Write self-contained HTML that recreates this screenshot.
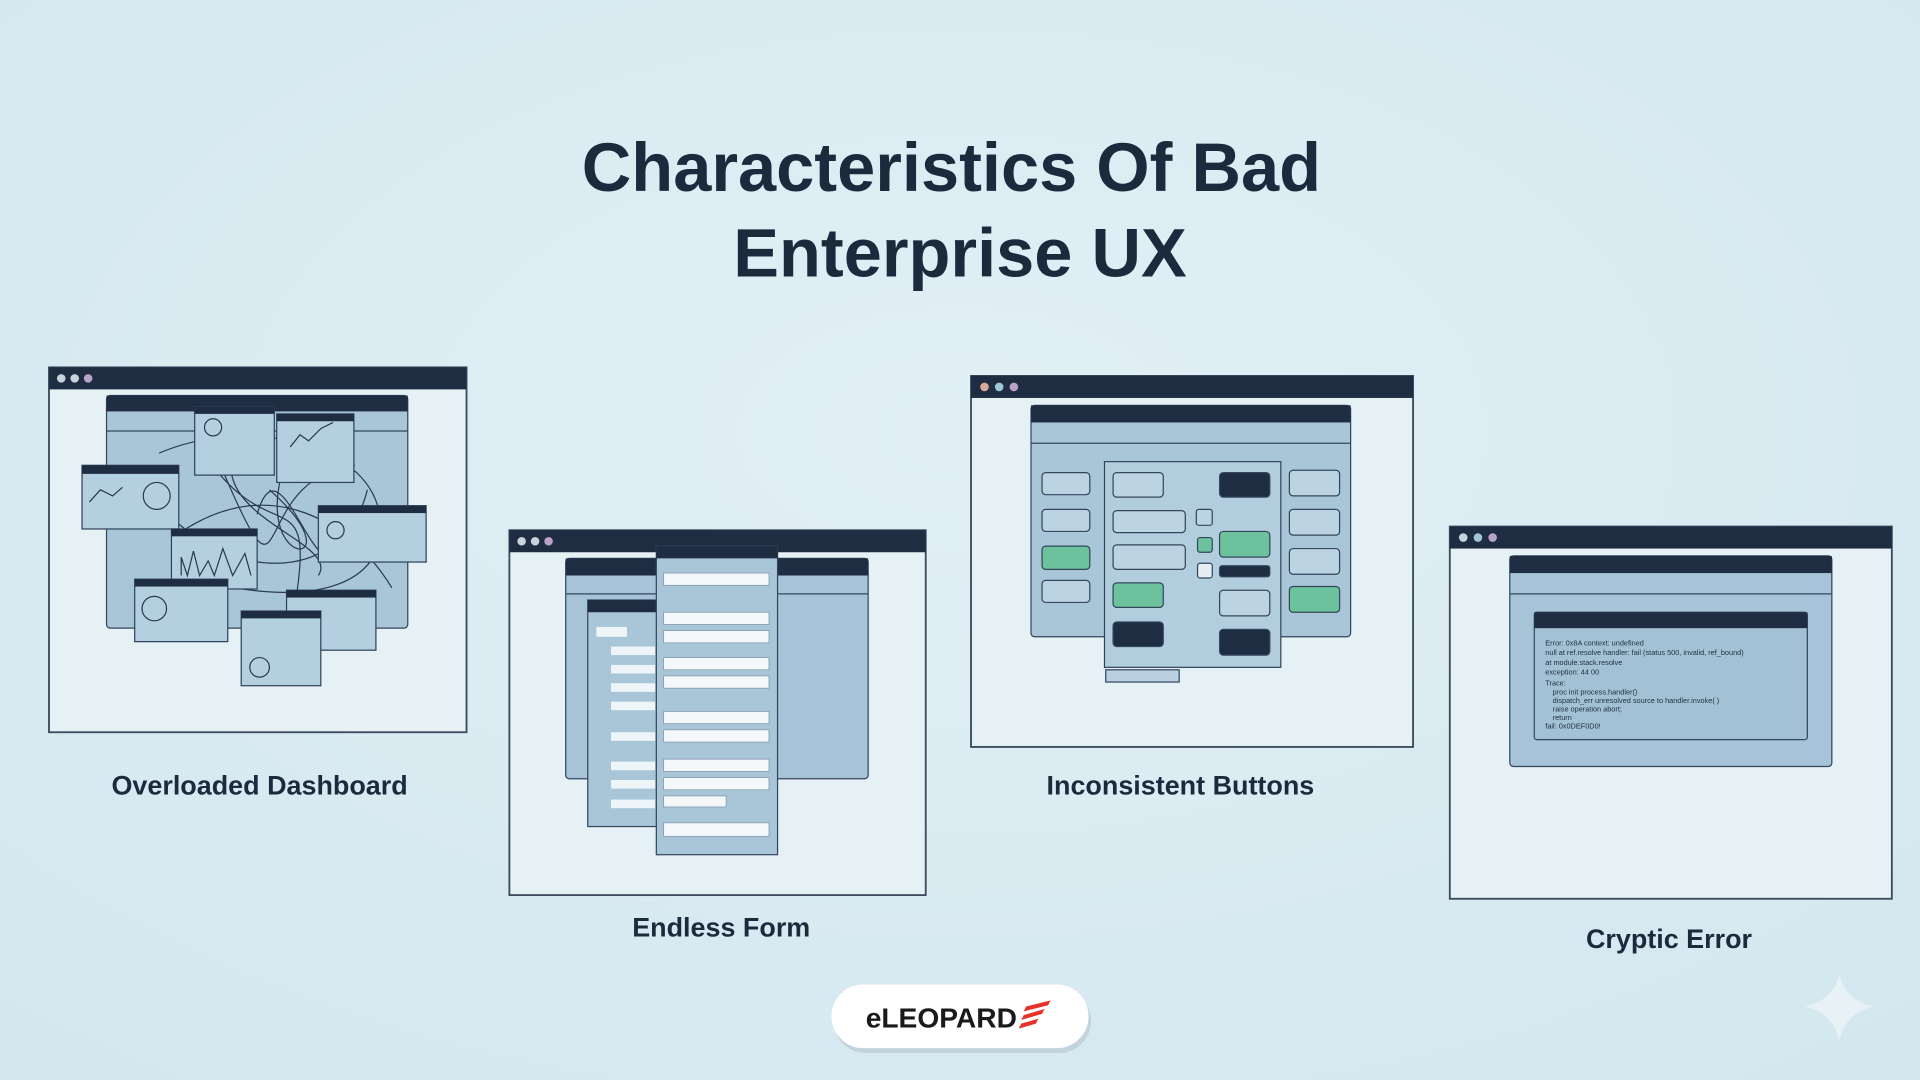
<!DOCTYPE html>
<html><head><meta charset="utf-8"><style>
html,body{margin:0;padding:0;background:#d9ebf2;}
svg{display:block}
text{font-family:"Liberation Sans",sans-serif;}
</style></head><body>
<svg width="1920" height="1080" viewBox="0 0 1568 882" xmlns="http://www.w3.org/2000/svg">
<defs>
<radialGradient id="bg" cx="50%" cy="40%" r="75%"><stop offset="0" stop-color="#e2f0f5"/><stop offset="1" stop-color="#d3e7ef"/></radialGradient>
</defs>
<rect width="1568" height="882" fill="url(#bg)"/>
<text x="777" y="156" text-anchor="middle" font-size="56" font-weight="bold" fill="#1c2a3d">Characteristics Of Bad</text>
<text x="784" y="226" text-anchor="middle" font-size="56" font-weight="bold" fill="#1c2a3d">Enterprise UX</text>

<!-- Window 1 -->
<g>
<rect x="40" y="300" width="341" height="298" fill="#e6f1f5" stroke="#3b4a5c" stroke-width="1.5"/>
<rect x="40" y="300" width="341" height="18" fill="#1f2d42"/>
<circle cx="50" cy="309" r="3.5" fill="#c9d3dc"/><circle cx="61" cy="309" r="3.5" fill="#c9d3dc"/><circle cx="72" cy="309" r="3.5" fill="#b9a3c6"/>
<rect x="87" y="323" width="246" height="190" rx="3" fill="#a9c6d9" stroke="#33465c"/>
<rect x="87" y="323" width="246" height="13" fill="#1f2d42"/>
<line x1="87" y1="352" x2="333" y2="352" stroke="#33465c"/>
<g fill="none" stroke="#2a3a4f" stroke-width="1">
<path d="M130 370 C200 340,300 360,310 420 S250 500,150 470"/><path d="M120 400 C180 480,280 480,300 400"/>
<path d="M160 360 C220 460,260 380,240 500"/><path d="M200 350 C150 420,280 440,260 470"/>
<path d="M240 360 C190 470,300 470,220 400"/><path d="M140 440 C220 380,290 430,320 480"/>
<path d="M180 380 C240 520,200 390,290 380"/><path d="M210 420 C230 350,260 500,280 440"/>
</g>
<g fill="#b4cfe0" stroke="#2f4258">
<rect x="159" y="332" width="65" height="56"/><rect x="226" y="338" width="63" height="56"/>
<rect x="67" y="380" width="79" height="52"/><rect x="260" y="413" width="88" height="46"/>
<rect x="140" y="432" width="70" height="49"/><rect x="110" y="473" width="76" height="51"/>
<rect x="234" y="482" width="73" height="49"/><rect x="197" y="499" width="65" height="61"/>
</g>
<g fill="#1f2d42">
<rect x="159" y="332" width="65" height="6"/><rect x="226" y="338" width="63" height="6"/>
<rect x="67" y="380" width="79" height="7"/><rect x="260" y="413" width="88" height="6"/>
<rect x="140" y="432" width="70" height="6"/><rect x="110" y="473" width="76" height="6"/>
<rect x="234" y="482" width="73" height="6"/><rect x="197" y="499" width="65" height="6"/>
</g>
<g fill="none" stroke="#2a3a4f">
<circle cx="174" cy="349" r="7"/><circle cx="128" cy="405" r="11"/><circle cx="274" cy="433" r="7"/><circle cx="126" cy="497" r="10"/><circle cx="212" cy="545" r="8"/>
<polyline points="237,365 245,355 252,360 262,350 272,345"/><polyline points="73,410 82,400 92,405 100,398"/>
<polyline points="148,470 148,455 153,470 158,450 163,470 170,458 175,470 182,448 190,470 200,452 205,470"/>
</g>
</g>
<text x="212" y="649" text-anchor="middle" font-size="22" font-weight="bold" fill="#1c2a3d">Overloaded Dashboard</text>

<!-- Window 2 -->
<g>
<rect x="416" y="433" width="340" height="298" fill="#e6f1f5" stroke="#3b4a5c" stroke-width="1.5"/>
<rect x="416" y="433" width="340" height="18" fill="#1f2d42"/>
<circle cx="426" cy="442" r="3.5" fill="#c9d3dc"/><circle cx="437" cy="442" r="3.5" fill="#c9d3dc"/><circle cx="448" cy="442" r="3.5" fill="#b9a3c6"/>
<rect x="462" y="456" width="247" height="180" rx="3" fill="#a6c3d7" stroke="#33465c"/>
<rect x="462" y="456" width="247" height="14" fill="#1f2d42"/>
<line x1="462" y1="485" x2="709" y2="485" stroke="#33465c"/>
<rect x="480" y="490" width="58" height="185" fill="#a9c6d9" stroke="#33465c"/>
<rect x="480" y="490" width="58" height="10" fill="#1f2d42"/>
<g fill="#eef5f9"><rect x="487" y="512" width="25" height="8"/><rect x="499" y="528" width="36" height="7"/><rect x="499" y="543" width="36" height="7"/><rect x="499" y="558" width="36" height="7"/><rect x="499" y="573" width="36" height="7"/><rect x="499" y="598" width="36" height="7"/><rect x="499" y="622" width="36" height="7"/><rect x="499" y="637" width="36" height="7"/><rect x="499" y="653" width="36" height="7"/></g>
<rect x="536" y="446" width="99" height="252" fill="#a9c6d9" stroke="#33465c"/>
<rect x="536" y="446" width="99" height="10" fill="#1f2d42"/>
<g fill="#f4f8fb" stroke="#7f95a8" stroke-width=".6">
<rect x="542" y="468" width="86" height="10"/><rect x="542" y="500" width="86" height="10"/><rect x="542" y="515" width="86" height="10"/>
<rect x="542" y="537" width="86" height="10"/><rect x="542" y="552" width="86" height="10"/><rect x="542" y="581" width="86" height="10"/>
<rect x="542" y="596" width="86" height="10"/><rect x="542" y="620" width="86" height="10"/><rect x="542" y="635" width="86" height="10"/>
<rect x="542" y="650" width="51" height="9"/><rect x="542" y="672" width="86" height="11"/>
</g>
</g>
<text x="589" y="765" text-anchor="middle" font-size="22" font-weight="bold" fill="#1c2a3d">Endless Form</text>

<!-- Window 3 -->
<g>
<rect x="793" y="307" width="361" height="303" fill="#e6f1f5" stroke="#3b4a5c" stroke-width="1.5"/>
<rect x="793" y="307" width="361" height="18" fill="#1f2d42"/>
<circle cx="804" cy="316" r="3.5" fill="#d9a99a"/><circle cx="816" cy="316" r="3.5" fill="#9fc7d6"/><circle cx="828" cy="316" r="3.5" fill="#b9a3c6"/>
<rect x="842" y="331" width="261" height="189" rx="3" fill="#a9c6d9" stroke="#33465c"/>
<rect x="842" y="331" width="261" height="14" fill="#1f2d42"/>
<line x1="842" y1="362" x2="1103" y2="362" stroke="#33465c"/>
<rect x="903" y="547" width="60" height="10" fill="#b8d0df" stroke="#33465c"/>
<rect x="902" y="377" width="144" height="168" fill="#b2cddd" stroke="#33465c"/>
<g stroke="#33465c" stroke-width="1">
<rect x="851" y="386" width="39" height="18" rx="3" fill="#bcd3e1"/><rect x="851" y="416" width="39" height="18" rx="3" fill="#bcd3e1"/>
<rect x="851" y="446" width="39" height="19" rx="3" fill="#6cc29c"/><rect x="851" y="474" width="39" height="18" rx="3" fill="#bcd3e1"/>
<rect x="909" y="386" width="41" height="20" rx="3" fill="#bcd3e1"/><rect x="909" y="417" width="59" height="18" rx="3" fill="#bcd3e1"/>
<rect x="909" y="445" width="59" height="20" rx="3" fill="#bcd3e1"/><rect x="909" y="476" width="41" height="20" rx="3" fill="#6cc29c"/>
<rect x="909" y="508" width="41" height="20" rx="3" fill="#1f2d42"/>
<rect x="996" y="386" width="41" height="20" rx="3" fill="#1f2d42"/><rect x="996" y="434" width="41" height="21" rx="3" fill="#6cc29c"/>
<rect x="996" y="462" width="41" height="9" rx="2" fill="#1f2d42"/><rect x="996" y="482" width="41" height="21" rx="3" fill="#bcd3e1"/>
<rect x="996" y="514" width="41" height="21" rx="3" fill="#1f2d42"/>
<rect x="977" y="416" width="13" height="13" rx="2" fill="#bcd3e1"/><rect x="978" y="439" width="12" height="12" rx="2" fill="#6cc29c"/><rect x="978" y="460" width="12" height="12" rx="2" fill="#e6eef3"/>
<rect x="1053" y="384" width="41" height="21" rx="3" fill="#bcd3e1"/><rect x="1053" y="416" width="41" height="21" rx="3" fill="#bcd3e1"/>
<rect x="1053" y="448" width="41" height="21" rx="3" fill="#bcd3e1"/><rect x="1053" y="479" width="41" height="21" rx="3" fill="#6cc29c"/>
</g>
</g>
<text x="964" y="649" text-anchor="middle" font-size="22" font-weight="bold" fill="#1c2a3d">Inconsistent Buttons</text>

<!-- Window 4 -->
<g>
<rect x="1184" y="430" width="361" height="304" fill="#e6f1f5" stroke="#3b4a5c" stroke-width="1.5"/>
<rect x="1184" y="430" width="361" height="18" fill="#1f2d42"/>
<circle cx="1195" cy="439" r="3.5" fill="#c9d3dc"/><circle cx="1207" cy="439" r="3.5" fill="#9fc7d6"/><circle cx="1219" cy="439" r="3.5" fill="#b9a3c6"/>
<rect x="1233" y="454" width="263" height="172" rx="3" fill="#a6c3d7" stroke="#33465c"/>
<rect x="1233" y="454" width="263" height="14" fill="#1f2d42"/>
<line x1="1233" y1="485" x2="1496" y2="485" stroke="#33465c"/>
<rect x="1253" y="500" width="223" height="104" rx="2" fill="#a3c1d5" stroke="#33465c"/>
<rect x="1253" y="500" width="223" height="13" fill="#1f2d42"/>
<g font-family="Liberation Mono,monospace" font-size="6" fill="#1f2d42">
<text x="1262" y="527">Error: 0x8A  context: undefined</text>
<text x="1262" y="535">null at ref.resolve  handler: fail (status 500, invalid, ref_bound)</text>
<text x="1262" y="543">at module.stack.resolve</text>
<text x="1262" y="551">exception: 44  00</text>
<text x="1262" y="560">Trace:</text>
<text x="1268" y="567">   proc  init process.handler()</text>
<text x="1268" y="574">     dispatch_err  unresolved source to handler.invoke( )</text>
<text x="1268" y="581">      raise operation abort;</text>
<text x="1268" y="588">   return</text>
<text x="1262" y="595">fail: 0x0DEF0D0!</text>
</g>
</g>
<text x="1363" y="774" text-anchor="middle" font-size="22" font-weight="bold" fill="#1c2a3d">Cryptic Error</text>

<!-- logo -->
<rect x="681" y="808" width="210" height="52" rx="26" fill="#c3d3dc"/>
<rect x="679" y="804" width="210" height="52" rx="26" fill="#ffffff"/>
<text x="707" y="839" font-size="23" font-weight="bold" fill="#1a1a1a">eLEOPARD</text>
<g fill="#e5332a"><polygon points="838,822 858,817 856,821 836,826"/><polygon points="836,829 853,824 851,828 834,833"/><polygon points="834,836 848,832 846,836 832,840"/></g>
<!-- sparkle -->
<path d="M1502 796 Q1507 817 1530 822 Q1507 827 1502 850 Q1497 827 1474 822 Q1497 817 1502 796Z" fill="#e8f2f6"/>
</svg>
</body></html>
